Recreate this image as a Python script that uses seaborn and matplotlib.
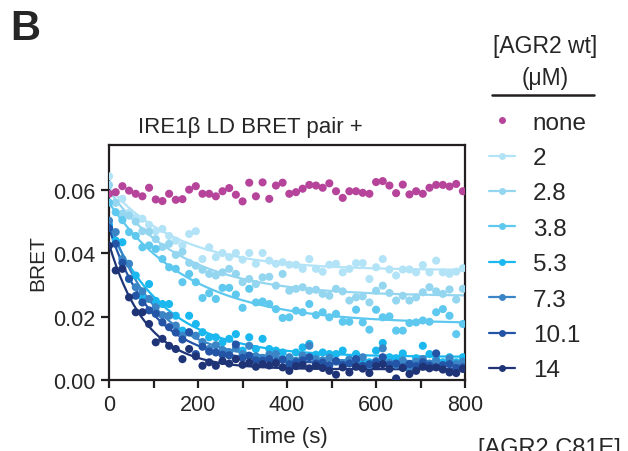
import numpy as np
import pandas as pd
import matplotlib
matplotlib.use('Agg')
import matplotlib.pyplot as plt
from matplotlib.lines import Line2D
import seaborn as sns

# time points (s), one read every 15 s
times = list(range(0, 810, 15))

concentrations = ['none', '2', '2.8', '3.8', '5.3', '7.3', '10.1', '14']

bret_none = [0.0588, 0.0593, 0.0612, 0.0598, 0.0588, 0.0580, 0.0607, 0.0570, 0.0565, 0.0588,
             0.0569, 0.0571, 0.0601, 0.0612, 0.0588, 0.0588, 0.0580, 0.0596, 0.0606, 0.0585,
             0.0564, 0.0623, 0.0580, 0.0624, 0.0572, 0.0614, 0.0623, 0.0588, 0.0593, 0.0604,
             0.0616, 0.0614, 0.0607, 0.0621, 0.0596, 0.0575, 0.0596, 0.0596, 0.0591, 0.0588,
             0.0625, 0.0628, 0.0614, 0.0590, 0.0617, 0.0586, 0.0596, 0.0588, 0.0607, 0.0616,
             0.0616, 0.0611, 0.0619, 0.0596]
bret_2 = [0.0643, 0.0560, 0.0572, 0.0528, 0.0514, 0.0509, 0.0490, 0.0470, 0.0477, 0.0455,
          0.0440, 0.0425, 0.0461, 0.0470, 0.0382, 0.0419, 0.0388, 0.0401, 0.0388, 0.0401,
          0.0380, 0.0401, 0.0367, 0.0401, 0.0377, 0.0367, 0.0372, 0.0364, 0.0364, 0.0351,
          0.0382, 0.0351, 0.0342, 0.0364, 0.0367, 0.0340, 0.0351, 0.0369, 0.0369, 0.0319,
          0.0356, 0.0382, 0.0349, 0.0330, 0.0349, 0.0349, 0.0340, 0.0363, 0.0340, 0.0377,
          0.0340, 0.0335, 0.0342, 0.0353]
bret_2_8 = [0.0616, 0.0560, 0.0525, 0.0519, 0.0500, 0.0470, 0.0468, 0.0445, 0.0420, 0.0430,
            0.0395, 0.0405, 0.0370, 0.0361, 0.0348, 0.0335, 0.0330, 0.0340, 0.0351, 0.0335,
            0.0309, 0.0319, 0.0303, 0.0324, 0.0326, 0.0298, 0.0335, 0.0282, 0.0288, 0.0293,
            0.0282, 0.0285, 0.0272, 0.0266, 0.0288, 0.0280, 0.0251, 0.0261, 0.0264, 0.0245,
            0.0282, 0.0298, 0.0275, 0.0251, 0.0266, 0.0251, 0.0261, 0.0277, 0.0293, 0.0280,
            0.0272, 0.0286, 0.0254, 0.0288]
bret_3_8 = [0.0560, 0.0530, 0.0505, 0.0467, 0.0455, 0.0419, 0.0425, 0.0414, 0.0382, 0.0356,
            0.0351, 0.0309, 0.0335, 0.0309, 0.0259, 0.0274, 0.0256, 0.0291, 0.0291, 0.0270,
            0.0228, 0.0288, 0.0245, 0.0248, 0.0240, 0.0224, 0.0196, 0.0198, 0.0219, 0.0214,
            0.0240, 0.0205, 0.0214, 0.0198, 0.0209, 0.0184, 0.0184, 0.0222, 0.0182, 0.0159,
            0.0222, 0.0198, 0.0201, 0.0156, 0.0156, 0.0180, 0.0182, 0.0188, 0.0184, 0.0214,
            0.0224, 0.0203, 0.0145, 0.0177]
bret_5_3 = [0.0490, 0.0440, 0.0435, 0.0319, 0.0330, 0.0261, 0.0303, 0.0250, 0.0240, 0.0240,
            0.0203, 0.0156, 0.0203, 0.0177, 0.0151, 0.0135, 0.0135, 0.0119, 0.0130, 0.0145,
            0.0093, 0.0135, 0.0098, 0.0130, 0.0098, 0.0093, 0.0087, 0.0061, 0.0087, 0.0103,
            0.0114, 0.0080, 0.0087, 0.0082, 0.0082, 0.0093, 0.0066, 0.0082, 0.0061, 0.0056,
            0.0093, 0.0117, 0.0072, 0.0069, 0.0084, 0.0043, 0.0069, 0.0108, 0.0082, 0.0066,
            0.0056, 0.0072, 0.0056, 0.0072]
bret_7_3 = [0.0503, 0.0467, 0.0382, 0.0367, 0.0293, 0.0280, 0.0256, 0.0230, 0.0205, 0.0203,
            0.0172, 0.0140, 0.0150, 0.0140, 0.0120, 0.0098, 0.0110, 0.0095, 0.0088, 0.0100,
            0.0082, 0.0108, 0.0075, 0.0070, 0.0080, 0.0082, 0.0065, 0.0072, 0.0060, 0.0077,
            0.0108, 0.0066, 0.0062, 0.0070, 0.0058, 0.0050, 0.0064, 0.0055, 0.0072, 0.0047,
            0.0060, 0.0100, 0.0054, 0.0048, 0.0062, 0.0035, 0.0058, 0.0066, 0.0052, 0.0060,
            0.0046, 0.0068, 0.0050, 0.0058]
bret_10_1 = [0.0480, 0.0430, 0.0370, 0.0320, 0.0266, 0.0245, 0.0220, 0.0209, 0.0182, 0.0167,
             0.0150, 0.0128, 0.0151, 0.0082, 0.0105, 0.0090, 0.0087, 0.0080, 0.0078, 0.0112,
             0.0070, 0.0077, 0.0062, 0.0061, 0.0066, 0.0058, 0.0064, 0.0050, 0.0056, 0.0062,
             0.0072, 0.0052, 0.0055, 0.0046, 0.0060, 0.0048, 0.0052, 0.0066, 0.0045, 0.0050,
             0.0056, 0.0072, 0.0048, 0.0052, 0.0040, 0.0050, 0.0044, 0.0056, 0.0046, 0.0084,
             0.0047, 0.0050, 0.0038, 0.0040]
bret_14 = [0.0424, 0.0346, 0.0351, 0.0261, 0.0214, 0.0214, 0.0177, 0.0119, 0.0130, 0.0108,
           0.0098, 0.0066, 0.0098, 0.0075, 0.0045, 0.0056, 0.0045, 0.0060, 0.0052, 0.0066,
           0.0048, 0.0055, 0.0042, 0.0050, 0.0046, 0.0053, 0.0040, 0.0029, 0.0044, 0.0048,
           0.0037, 0.0045, 0.0038, 0.0029, 0.0017, 0.0040, 0.0024, 0.0042, 0.0036, 0.0022,
           0.0044, 0.0050, 0.0035, 0.0005, 0.0038, 0.0019, 0.0029, 0.0042, 0.0037, 0.0040,
           0.0033, 0.0024, 0.0022, 0.0035]

colors = ['#b5449a', '#b3e3f7', '#94d6f0', '#5ec8ee', '#1ab8ee', '#3b85c6', '#2454a6', '#1e3477']


def fit_decay(t, y):
    # one-phase decay y = plateau + span * exp(-k t), grid search on k
    best = None
    for k in np.linspace(0.0005, 0.05, 991):
        X = np.column_stack([np.ones_like(t), np.exp(-k * t)])
        coef, *_ = np.linalg.lstsq(X, y, rcond=None)
        sse = np.sum((X @ coef - y) ** 2)
        if best is None or sse < best[0]:
            best = (sse, coef[0], coef[1], k)
    return best[1:]


series = [bret_none, bret_2, bret_2_8, bret_3_8, bret_5_3, bret_7_3, bret_10_1, bret_14]
rows = []
for conc, vals in zip(concentrations, series):
    for t, v in zip(times, vals):
        rows.append([t, v, conc])
df = pd.DataFrame(rows, columns=['time', 'bret', 'conc'])

sns.set_style('ticks')
plt.rcParams['font.family'] = ['Liberation Sans', 'DejaVu Sans']

fig = plt.figure(figsize=(6.28, 4.52), dpi=100)
ax = fig.add_axes([0.1736, 0.157, 0.567, 0.520])

t_arr = np.array(times, dtype=float)
t_fine = np.linspace(0, 800, 300)
for conc, vals, color in zip(concentrations[1:], series[1:], colors[1:]):
    plateau, span, k = fit_decay(t_arr, np.array(vals))
    ax.plot(t_fine, plateau + span * np.exp(-k * t_fine), color=color, lw=1.6, zorder=2)

sns.scatterplot(data=df, x='time', y='bret', hue='conc', hue_order=concentrations[::-1][:-1] + ['none'],
                palette=dict(zip(concentrations, colors)), s=34, linewidth=0, legend=False,
                ax=ax, zorder=3)

ax.set_xlim(0, 800)
ax.set_ylim(0, 0.0742)
ax.set_xticks([0, 200, 400, 600, 800])
ax.set_xticks([100, 300, 500, 700], minor=True)
ax.set_yticks([0, 0.02, 0.04, 0.06])
ax.set_yticklabels(['0.00', '0.02', '0.04', '0.06'])
for side in ['left', 'right', 'top', 'bottom']:
    ax.spines[side].set_visible(True)
    ax.spines[side].set_linewidth(1.6)
    ax.spines[side].set_color('#231f20')
ax.tick_params(which='major', length=6, width=1.6, labelsize=15.5, color='#231f20', pad=4)
ax.tick_params(which='minor', length=6, width=1.6, color='#231f20')
ax.set_xlabel('Time (s)', fontsize=16, labelpad=8)
ax.set_ylabel('BRET', fontsize=15, labelpad=4)

fig.text(138 / 628, 1 - 133 / 452, 'IRE1β LD BRET pair +', fontsize=16, va='baseline')
fig.text(10 / 628, 1 - 40 / 452, 'B', fontsize=30, weight='bold', va='baseline')

# legend header with rule
fig.text(545 / 628, 1 - 53 / 452, '[AGR2 wt]', fontsize=16.5, ha='center', va='baseline')
fig.text(545 / 628, 1 - 85 / 452, '(μM)', fontsize=16.5, ha='center', va='baseline')
fig.add_artist(Line2D([492 / 628, 594 / 628], [1 - 96 / 452, 1 - 96 / 452],
                      transform=fig.transFigure, color='#231f20', lw=1.8))

handles = [Line2D([], [], color=colors[0], marker='o', ls='none', markersize=5, markeredgewidth=0)]
for color in colors[1:]:
    handles.append(Line2D([], [], color=color, marker='o', lw=1.6, markersize=5, markeredgewidth=0))
ax.legend(handles, concentrations, loc='upper left', bbox_to_anchor=(479 / 628, 1 - 103 / 452),
          bbox_transform=fig.transFigure, frameon=False, fontsize=17.5, handlelength=1.07,
          handletextpad=0.74, labelspacing=0.55, borderaxespad=0)

fig.text(478 / 628, 1 - 438 / 452, '[AGR2 C81E]', fontsize=17, va='top')

plt.savefig('out.png', dpi=100)
